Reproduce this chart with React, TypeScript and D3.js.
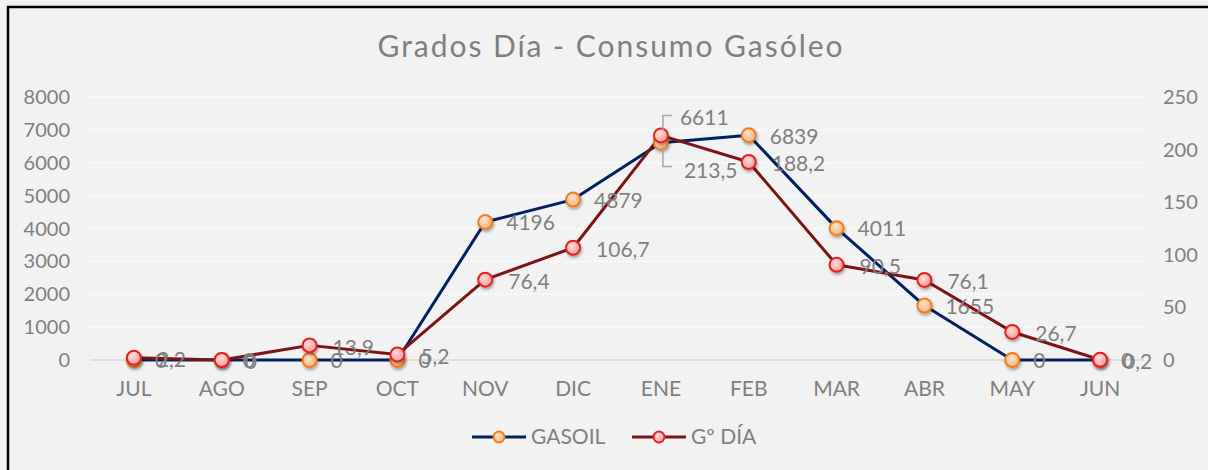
import React, { useEffect, useRef } from "react";
import * as d3 from "d3";

const months = ["JUL", "AGO", "SEP", "OCT", "NOV", "DIC", "ENE", "FEB", "MAR", "ABR", "MAY", "JUN"];
const gasoil = [0, 0, 0, 0, 4196, 4879, 6611, 6839, 4011, 1655, 0, 0];
const gradosDia = [2.2, 0, 13.9, 5.2, 76.4, 106.7, 213.5, 188.2, 90.5, 76.1, 26.7, 0.2];
const leftTicks = [0, 1000, 2000, 3000, 4000, 5000, 6000, 7000, 8000];
const rightTicks = [0, 50, 100, 150, 200, 250];

const FONT = "Lato, 'DejaVu Sans', sans-serif";
const GRAY = "#7f7f7f";

const fmt = (v: number) => String(v).replace(".", ",");

export default function App() {
  const ref = useRef<SVGSVGElement>(null);

  useEffect(() => {
    const svg = d3.select(ref.current);
    svg.selectAll("*").remove();

    const left = 90, right = 1144, top = 97, bottom = 360;

    const x = d3.scaleBand().domain(months).range([left, right]);
    const cx = (m: string) => (x(m) as number) + x.bandwidth() / 2;
    const yL = d3.scaleLinear().domain([0, 8000]).range([bottom, top]);
    const yR = d3.scaleLinear().domain([0, 250]).range([bottom, top]);

    const defs = svg.append("defs");
    const grad = (id: string, inner: string, outer: string) => {
      const g = defs.append("radialGradient").attr("id", id).attr("cx", "40%").attr("cy", "35%").attr("r", "65%");
      g.append("stop").attr("offset", "0%").attr("stop-color", inner);
      g.append("stop").attr("offset", "100%").attr("stop-color", outer);
    };
    grad("gOrange", "#fee3cc", "#fbb37a");
    grad("gPink", "#ffdada", "#ff9d9d");
    defs.append("filter").attr("id", "shadow").attr("x", "-50%").attr("y", "-50%").attr("width", "200%").attr("height", "200%")
      .append("feDropShadow").attr("dx", 1).attr("dy", 2).attr("stdDeviation", 1.5).attr("flood-color", "#000").attr("flood-opacity", 0.35);

    // background + border
    svg.append("rect").attr("width", 1208).attr("height", 470).attr("fill", "#f2f2f2");
    svg.append("rect").attr("x", 8).attr("y", 7).attr("width", 1300).attr("height", 600)
      .attr("fill", "none").attr("stroke", "#000").attr("stroke-width", 2.5);

    // title
    svg.append("text").attr("x", 610).attr("y", 57).attr("text-anchor", "middle")
      .attr("textLength", 465).attr("lengthAdjust", "spacing")
      .style("font-family", FONT).style("font-size", "30px").attr("fill", GRAY)
      .text("Grados Día - Consumo Gasóleo");

    // grid
    svg.append("g").selectAll("line").data(leftTicks.filter((d) => d > 0)).join("line")
      .attr("x1", left).attr("x2", right).attr("y1", (d) => yL(d)).attr("y2", (d) => yL(d))
      .attr("stroke", "#ffffff").attr("stroke-width", 1.5).attr("stroke-dasharray", "2,2");
    svg.append("line").attr("x1", left).attr("x2", right).attr("y1", bottom).attr("y2", bottom)
      .attr("stroke", "#d9d9d9").attr("stroke-width", 1.5);

    // axes labels
    svg.append("g").selectAll("text").data(leftTicks).join("text")
      .attr("x", 70).attr("y", (d) => yL(d)).attr("dy", "0.35em").attr("text-anchor", "end")
      .style("font-family", FONT).style("font-size", "20px").attr("fill", GRAY).text((d) => d);
    svg.append("g").selectAll("text").data(rightTicks).join("text")
      .attr("x", 1163).attr("y", (d) => yR(d)).attr("dy", "0.35em").attr("text-anchor", "start")
      .style("font-family", FONT).style("font-size", "20px").attr("fill", GRAY).text((d) => d);
    svg.append("g").selectAll("text").data(months).join("text")
      .attr("x", (d) => cx(d)).attr("y", 389).attr("dy", "0.35em").attr("text-anchor", "middle")
      .style("font-family", FONT).style("font-size", "21px").attr("fill", GRAY).text((d) => d);

    // lines
    const lineL = d3.line<number>().x((_, i) => cx(months[i])).y((d) => yL(d));
    const lineR = d3.line<number>().x((_, i) => cx(months[i])).y((d) => yR(d));
    svg.append("path").datum(gasoil).attr("d", lineL).attr("fill", "none")
      .attr("stroke", "#002060").attr("stroke-width", 3).attr("stroke-linejoin", "round");
    svg.append("path").datum(gradosDia).attr("d", lineR).attr("fill", "none")
      .attr("stroke", "#7b1414").attr("stroke-width", 3).attr("stroke-linejoin", "round");

    // markers
    svg.append("g").selectAll("circle").data(gasoil).join("circle")
      .attr("cx", (_, i) => cx(months[i])).attr("cy", (d) => yL(d)).attr("r", 7)
      .attr("fill", "url(#gOrange)").attr("stroke", "#f07d1e").attr("stroke-width", 2)
      .attr("filter", "url(#shadow)");
    svg.append("g").selectAll("circle").data(gradosDia).join("circle")
      .attr("cx", (_, i) => cx(months[i])).attr("cy", (d) => yR(d)).attr("r", 7)
      .attr("fill", "url(#gPink)").attr("stroke", "#e02424").attr("stroke-width", 2)
      .attr("filter", "url(#shadow)");

    // data labels
    const ene = months.indexOf("ENE");
    const labelStyle = (sel: any) =>
      sel.style("font-family", FONT).style("font-size", "21px").attr("fill", GRAY).attr("dy", "0.35em");
    svg.append("g").selectAll("text").data(gasoil).join("text")
      .attr("x", (_, i) => cx(months[i]) + (i === ene ? 19 : 21))
      .attr("y", (d, i) => yL(d) + (i === ene ? -25 : 1))
      .call(labelStyle).text((d) => fmt(d));
    svg.append("g").selectAll("text").data(gradosDia).join("text")
      .attr("x", (_, i) => cx(months[i]) + 23)
      .attr("y", (d, i) => yR(d) + (i === ene ? 35 : 2))
      .call(labelStyle).text((d) => fmt(d));

    // leader lines for ENE labels
    const ex = cx("ENE") + 2;
    svg.append("path")
      .attr("d", `M${ex + 9},${yR(213.5) - 20} H${ex} V${yL(6611) - 12} M${ex},${yL(6611) + 4} V${yR(213.5) + 31} H${ex + 9}`)
      .attr("fill", "none").attr("stroke", "#a6a6a6").attr("stroke-width", 1.5);

    // legend
    const legend = [
      { name: "GASOIL", x: 472, stroke: "#002060", fill: "url(#gOrange)", mstroke: "#f07d1e" },
      { name: "Gº DÍA", x: 632, stroke: "#7b1414", fill: "url(#gPink)", mstroke: "#e02424" },
    ];
    const lg = svg.append("g").selectAll("g").data(legend).join("g");
    lg.append("line").attr("x1", (d) => d.x).attr("x2", (d) => d.x + 54).attr("y1", 437).attr("y2", 437)
      .attr("stroke", (d) => d.stroke).attr("stroke-width", 3);
    lg.append("circle").attr("cx", (d) => d.x + 27).attr("cy", 437).attr("r", 5.5)
      .attr("fill", (d) => d.fill).attr("stroke", (d) => d.mstroke).attr("stroke-width", 2);
    lg.append("text").attr("x", (d) => d.x + 59).attr("y", 437).attr("dy", "0.35em")
      .style("font-family", FONT).style("font-size", "21px").attr("fill", GRAY).text((d) => d.name);
  }, []);

  return (
    <div style={{ position: "fixed", left: 0, top: 0 }}>
      <svg ref={ref} width={1208} height={470} style={{ display: "block" }} />
    </div>
  );
}
